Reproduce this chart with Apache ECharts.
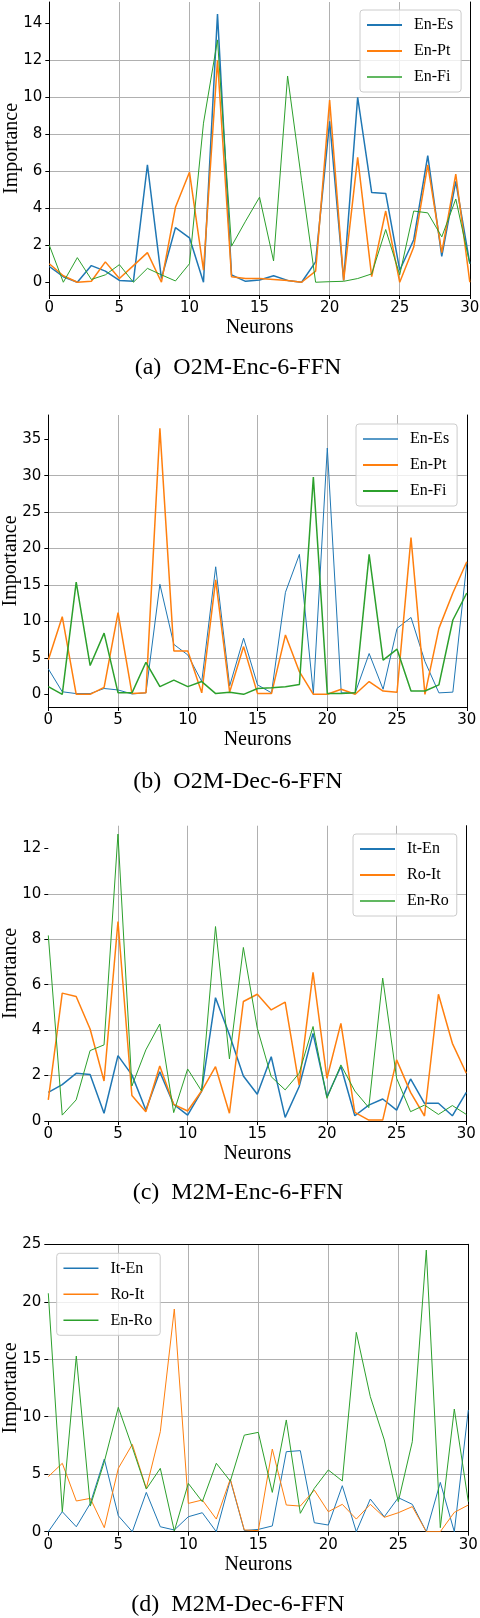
<!DOCTYPE html>
<html>
<head>
<meta charset="utf-8">
<script src="https://cdn.jsdelivr.net/npm/echarts@6/dist/echarts.min.js"></script>
<style>
    html, body { margin: 0; padding: 0; background: #fff; }
    #container { width: 480px; height: 1618px; }
</style>
</head>
<body>
<div id="container"></div>
<script>
// neuron index on x, shared by all four panels
var neurons = [0, 1, 2, 3, 4, 5, 6, 7, 8, 9, 10, 11, 12, 13, 14, 15, 16, 17, 18, 19, 20, 21, 22, 23, 24, 25, 26, 27, 28, 29, 30];
var xTicks = [0, 5, 10, 15, 20, 25, 30];

// (a) O2M-Enc-6-FFN
var aNames = ['En-Es', 'En-Pt', 'En-Fi'];
var aEnEs = [0.85, 0.3, 0.0, 0.9, 0.6, 0.1, 0.05, 6.35, 0.2, 2.95, 2.4, 0.0, 14.5, 0.4, 0.05, 0.12, 0.35, 0.1, 0.0, 1.1, 8.7, 0.1, 10.0, 4.85, 4.8, 0.65, 2.3, 6.85, 1.4, 5.45, 1.0];
var aEnPt = [1.0, 0.35, 0.0, 0.05, 1.1, 0.2, 0.9, 1.6, 0.0, 4.05, 5.95, 0.65, 12.0, 0.3, 0.2, 0.2, 0.15, 0.1, 0.0, 0.6, 9.85, 0.1, 6.75, 0.3, 3.85, 0.0, 1.9, 6.35, 1.6, 5.85, 0.0];
var aEnFi = [2.0, 0.0, 1.33, 0.15, 0.4, 0.95, 0.0, 0.75, 0.4, 0.07, 1.0, 8.6, 13.1, 1.95, 3.3, 4.6, 1.15, 11.15, 5.5, 0.0, 0.03, 0.05, 0.2, 0.45, 2.85, 0.4, 3.85, 3.75, 2.45, 4.5, 1.0];
var aTicks = [0, 2, 4, 6, 8, 10, 12, 14];

// (b) O2M-Dec-6-FFN
var bNames = ['En-Es', 'En-Pt', 'En-Fi'];
var bEnEs = [3.5, 0.35, 0.1, 0.1, 0.8, 0.6, 0.05, 0.2, 15.1, 6.85, 5.4, 1.75, 17.5, 1.15, 7.7, 1.3, 0.2, 14.0, 19.2, 0.1, 33.8, 0.2, 0.2, 5.6, 0.7, 9.05, 10.55, 4.5, 0.2, 0.3, 18.0];
var bEnPt = [4.7, 10.65, 0.0, 0.0, 0.95, 11.2, 0.1, 0.2, 36.5, 5.95, 5.95, 0.2, 15.7, 0.3, 6.55, 0.1, 0.1, 8.15, 3.1, 0.0, 0.0, 0.7, 0.0, 1.75, 0.45, 0.3, 21.5, 0.0, 9.05, 13.9, 18.2];
var bEnFi = [1.05, 0.0, 15.4, 3.95, 8.4, 0.2, 0.2, 4.4, 1.05, 1.95, 1.05, 1.75, 0.1, 0.3, 0.0, 0.8, 0.9, 1.05, 1.35, 29.8, 0.1, 0.1, 0.2, 19.2, 4.7, 6.2, 0.45, 0.45, 1.3, 10.2, 13.9];
var bTicks = [0, 5, 10, 15, 20, 25, 30, 35];

// (c) M2M-Enc-6-FFN
var cNames = ['It-En', 'Ro-It', 'En-Ro'];
var cItEn = [1.26, 1.6, 2.1, 2.05, 0.34, 2.88, 2.03, 0.48, 2.17, 0.73, 0.26, 1.3, 5.43, 3.8, 1.98, 1.18, 2.83, 0.16, 1.51, 3.86, 1.07, 2.4, 0.23, 0.7, 0.97, 0.48, 1.85, 0.78, 0.78, 0.23, 1.26];
var cRoIt = [0.93, 5.63, 5.48, 4.05, 1.76, 8.78, 1.12, 0.41, 2.42, 0.73, 0.44, 1.32, 2.39, 0.34, 5.26, 5.58, 4.89, 5.23, 1.59, 6.54, 1.88, 4.3, 0.38, 0.04, 0.04, 2.69, 1.26, 0.22, 5.58, 3.42, 2.1];
var cEnRo = [8.17, 0.26, 0.93, 3.1, 3.35, 12.63, 1.54, 3.13, 4.27, 0.37, 2.29, 1.32, 8.56, 2.73, 7.64, 4.08, 1.95, 1.37, 2.1, 4.16, 1.0, 2.47, 1.32, 0.59, 6.29, 1.88, 0.41, 0.7, 0.29, 0.68, 0.29];
var cTicks = [0, 2, 4, 6, 8, 10, 12];

// (d) M2M-Dec-6-FFN
var dNames = ['It-En', 'Ro-It', 'En-Ro'];
var dItEn = [0.0, 1.74, 0.43, 2.46, 6.32, 1.39, 0.0, 3.42, 0.43, 0.15, 1.3, 1.65, 0.0, 4.5, 0.1, 0.2, 0.5, 6.96, 7.05, 0.78, 0.58, 4.0, 0.0, 2.84, 1.3, 2.96, 2.38, 0.0, 4.29, 0.0, 10.59];
var dRoIt = [4.79, 5.95, 2.67, 2.9, 0.35, 5.51, 7.6, 3.77, 8.7, 19.37, 2.46, 2.76, 1.1, 4.58, 0.15, 0.09, 7.19, 2.32, 2.23, 3.62, 1.74, 2.38, 1.1, 2.38, 1.25, 1.65, 2.18, 0.0, 0.0, 1.68, 2.32];
var dEnRo = [20.74, 1.74, 15.28, 2.23, 6.09, 10.82, 7.34, 3.71, 5.51, 0.06, 4.2, 2.61, 5.95, 4.4, 8.4, 8.64, 3.42, 9.72, 1.6, 3.77, 5.37, 4.41, 17.34, 11.75, 7.98, 2.61, 7.83, 24.5, 0.35, 10.67, 2.61];
var dTicks = [0, 5, 10, 15, 20, 25];

var colors = ['#1f77b4', '#ff7f0e', '#2ca02c'];
var tickFont = 'DejaVu Sans';
var serif = 'Liberation Serif';

// layout of each panel (pixels) and its y range
var panels = [
    { caption: '(a)\u2002O2M-Enc-6-FFN', names: aNames, values: [aEnEs, aEnPt, aEnFi], widths: [1.5, 1.5, 1], ticks: aTicks,
      ymin: -0.69, ymax: 15.15, left: 49.3, top: 2, width: 420.5, height: 293, capY: 368,
      legend: { left: 360, top: 10 }, spines: { left: true, top: false } },
    { caption: '(b)\u2002O2M-Dec-6-FFN', names: bNames, values: [bEnEs, bEnPt, bEnFi], widths: [1, 1.5, 1.5], ticks: bTicks,
      ymin: -1.74, ymax: 38.33, left: 48.3, top: 415, width: 418.5, height: 292, capY: 782,
      legend: { left: 356, top: 424 }, spines: { left: true, top: false } },
    { caption: '(c)\u2002M2M-Enc-6-FFN', names: cNames, values: [cItEn, cRoIt, cEnRo], widths: [1.5, 1.5, 1], ticks: cTicks,
      ymin: 0, ymax: 13, left: 48.3, top: 825.7, width: 418, height: 295.3, capY: 1193,
      legend: { left: 353, top: 834 }, spines: { left: false, top: false } },
    { caption: '(d)\u2002M2M-Dec-6-FFN', names: dNames, values: [dItEn, dRoIt, dEnRo], widths: [1, 1, 1], ticks: dTicks,
      ymin: 0, ymax: 25, left: 48.3, top: 1244.3, width: 420, height: 287.4, capY: 1605,
      legend: { left: 56.7, top: 1253.3 }, spines: { left: false, top: true } }
];

function tickFormatter(ticks) {
    return function (v) {
        for (var i = 0; i < ticks.length; i++) {
            if (Math.abs(ticks[i] - v) < 1e-6) return String(ticks[i]);
        }
        return '';
    };
}

var grids = [], xAxes = [], yAxes = [], extraY = [], series = [], legends = [], graphics = [];

for (var k = 0; k < panels.length; k++) {
    var p = panels[k];
    var step = p.ticks[1] - p.ticks[0];
    var xStep = xTicks[1] - xTicks[0];

    // outerBoundsMode none: keep the grid where it is, labels may sit outside
    grids.push({ left: p.left, top: p.top, width: p.width, height: p.height, containLabel: false, outerBoundsMode: 'none' });

    xAxes.push({
        type: 'value', gridIndex: k, min: xTicks[0], max: xTicks[xTicks.length - 1], interval: xStep,
        name: 'Neurons', nameLocation: 'middle', nameGap: 23, nameMoveOverlap: false,
        nameTextStyle: { fontFamily: serif, fontSize: 20, color: '#000' },
        axisLine: { onZero: false, lineStyle: { color: '#000', width: 1 } },
        axisTick: { show: true, length: 4, lineStyle: { color: '#000' } },
        axisLabel: { margin: 6, fontFamily: tickFont, fontSize: 15, color: '#000', formatter: tickFormatter(xTicks) },
        splitLine: { show: true, showMinLine: p.spines.left, lineStyle: { color: '#b0b0b0', width: 1 } }
    });
    if (p.spines.top) {
        xAxes.push({
            type: 'value', gridIndex: k, position: 'top', min: xTicks[0], max: xTicks[xTicks.length - 1],
            axisLine: { onZero: false, lineStyle: { color: '#000', width: 1 } },
            axisTick: { show: false }, axisLabel: { show: false }, splitLine: { show: false }
        });
    }

    yAxes.push({
        type: 'value', gridIndex: k, min: p.ymin, max: p.ymax,
        splitNumber: Math.round((p.ymax - p.ymin) / step), minInterval: step, maxInterval: step,
        name: 'Importance', nameLocation: 'middle', nameGap: 28, nameMoveOverlap: false,
        nameTextStyle: { fontFamily: serif, fontSize: 20, color: '#000' },
        axisLine: { show: p.spines.left, onZero: false, lineStyle: { color: '#000', width: 1 } },
        axisTick: { show: true, length: 4, customValues: p.ticks, lineStyle: { color: '#000' } },
        axisLabel: { margin: 7, fontFamily: tickFont, fontSize: 15, color: '#000', customValues: p.ticks, formatter: tickFormatter(p.ticks) },
        splitLine: { show: true, showMinLine: false, showMaxLine: p.spines.top, lineStyle: { color: '#b0b0b0', width: 1 } }
    });
    // right spine
    extraY.push({
        type: 'value', gridIndex: k, position: 'right', min: p.ymin, max: p.ymax,
        axisLine: { show: true, onZero: false, lineStyle: { color: '#000', width: 1 } },
        axisTick: { show: false }, axisLabel: { show: false }, splitLine: { show: false }
    });

    var legendData = [];
    for (var s = 0; s < p.names.length; s++) {
        var pts = [];
        for (var i = 0; i < neurons.length; i++) pts.push([neurons[i], p.values[s][i]]);
        series.push({
            type: 'line', name: p.names[s], xAxisIndex: xAxes.length - (p.spines.top ? 2 : 1), yAxisIndex: k,
            data: pts, symbol: 'none', showSymbol: false,
            lineStyle: { color: colors[s], width: p.widths[s] },
            itemStyle: { color: colors[s] }
        });
        // legend shows only the line sample, the marker is hidden
        legendData.push({
            name: p.names[s],
            itemStyle: { color: 'rgba(0,0,0,0)', borderWidth: 0, opacity: 0 },
            lineStyle: { color: colors[s], width: p.widths[s] + 0.5 }
        });
    }

    legends.push({
        orient: 'vertical', left: p.legend.left, top: p.legend.top,
        data: legendData, selectedMode: false,
        itemWidth: 35, itemHeight: 14, itemGap: 10, padding: [7, 8, 7, 6],
        backgroundColor: 'rgba(255,255,255,0.8)', borderColor: '#cccccc', borderWidth: 1, borderRadius: 3,
        textStyle: { fontFamily: serif, fontSize: 16, color: '#000', padding: [0, 0, 0, 7] }
    });

    graphics.push({
        type: 'text', x: 238, y: p.capY,
        style: { text: p.caption, fill: '#000', font: '24px "Liberation Serif"', align: 'center', verticalAlign: 'middle' }
    });
}

var chart = echarts.init(document.getElementById('container'));
chart.setOption({
    animation: false,
    backgroundColor: '#fff',
    grid: grids,
    xAxis: xAxes,
    yAxis: yAxes.concat(extraY),
    legend: legends,
    series: series,
    graphic: graphics
});
</script>
</body>
</html>
